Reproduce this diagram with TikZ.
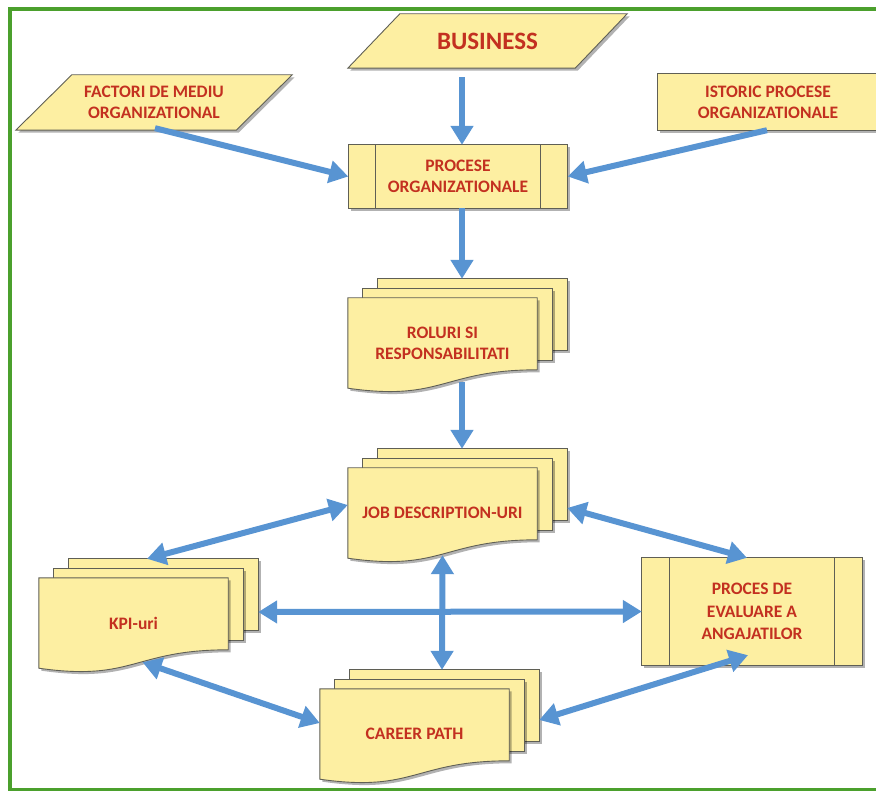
\documentclass[tikz,border=0pt]{standalone}
\usepackage{fontspec}
\setmainfont{Carlito}
\usetikzlibrary{arrows.meta,calc,shadows}

\definecolor{boxfill}{RGB}{253,239,162}
\definecolor{boxline}{RGB}{95,95,85}
\definecolor{txtred}{RGB}{195,48,32}
\definecolor{arrowblue}{RGB}{88,148,210}
\definecolor{framegreen}{RGB}{75,160,45}

\pgfdeclarelayer{background}
\pgfsetlayers{background,main}

\tikzset{
  txt/.style={align=center, text=txtred, inner sep=0pt,
    font=\bfseries\fontsize{17.5}{21}\selectfont},
  yellowbox/.style={fill=boxfill, draw=boxline, line width=0.9pt,
    drop shadow={shadow xshift=2.5pt, shadow yshift=-2.5pt, opacity=0.3, fill=black}},
  flow/.style={arrowblue, line width=6pt, -{Triangle[length=19pt,width=22pt]}},
  both/.style={flow, {Triangle[length=19pt,width=22pt]}-{Triangle[length=19pt,width=22pt]}}
}

% stacked documents behind node #1
\newcommand\multidoc[1]{%
  \begin{pgfonlayer}{background}
  \draw[yellowbox] ($(#1.north west)+(30,-19)$) rectangle ($(#1.north east)+(30,53)$);
  \draw[yellowbox] ($(#1.north west)+(15,-9.5)$) rectangle ($(#1.north east)+(15,62.5)$);
  \draw[yellowbox] (#1.north west) -- (#1.north east) -- ($(#1.north east)+(0,72)$)
    .. controls ($(#1.north)+(0,72)$) and ($(#1.north)+(0,104)$) .. (#1.south west) -- cycle;
  \end{pgfonlayer}}

% parallelogram behind node #1, slant #2
\newcommand\slantbox[2]{%
  \begin{pgfonlayer}{background}
  \draw[yellowbox] ($(#1.north west)+(#2,0)$) -- ($(#1.north east)+(#2,0)$)
    -- ($(#1.south east)+(-#2,0)$) -- ($(#1.south west)+(-#2,0)$) -- cycle;
  \end{pgfonlayer}}

% process box with side bars behind node #1
\newcommand\procbox[2]{%
  \begin{pgfonlayer}{background}
  \draw[yellowbox] (#1.north west) rectangle (#1.south east);
  \draw[boxline, line width=0.9pt] ($(#1.north west)+(#2,0)$) -- ($(#1.south west)+(#2,0)$);
  \draw[boxline, line width=0.9pt] ($(#1.north east)+(-#2,0)$) -- ($(#1.south east)+(-#2,0)$);
  \end{pgfonlayer}}

\begin{document}
\begin{tikzpicture}[x=1pt, y=-1pt]
  \useasboundingbox (0,0) rectangle (876,791);

  % green frame
  \draw[framegreen, line width=3.5pt] (900,9) -- (10,9) -- (10,789.5) -- (900,789.5);

  % inputs
  \node[txt, font=\bfseries\fontsize{25}{28}\selectfont, minimum width=227pt, minimum height=54pt]
    (business) at (487.5,41) {BUSINESS};
  \slantbox{business}{26}
  \node[txt, minimum width=220pt, minimum height=55pt] (factori) at (154,102.5)
    {FACTORI DE MEDIU\\ORGANIZATIONAL};
  \slantbox{factori}{28}
  \node[txt, minimum width=220pt, minimum height=56pt] (istoric) at (768,102)
    {ISTORIC PROCESE\\ORGANIZATIONALE};
  \begin{pgfonlayer}{background}
    \draw[yellowbox] (istoric.north west) rectangle (istoric.south east);
  \end{pgfonlayer}

  % processes
  \node[txt, minimum width=219pt, minimum height=63pt] (procese) at (458,176.5)
    {PROCESE\\ORGANIZATIONALE};
  \procbox{procese}{27}
  \node[txt, font=\bfseries\fontsize{17.5}{22.5}\selectfont, minimum width=220pt, minimum height=107pt]
    (eval) at (752,611.5) {PROCES DE\\EVALUARE A\\ANGAJATILOR};
  \procbox{eval}{28}

  % documents
  \node[txt, minimum width=189pt, minimum height=90pt] (roluri) at (442.5,343)
    {ROLURI SI\\RESPONSABILITATI};
  \multidoc{roluri}
  \node[txt, minimum width=189pt, minimum height=90pt] (job) at (442.5,513)
    {JOB DESCRIPTION-URI};
  \multidoc{job}
  \node[txt, minimum width=189pt, minimum height=90pt] (kpi) at (133.5,623) {KPI-uri};
  \multidoc{kpi}
  \node[txt, minimum width=189pt, minimum height=90pt] (career) at (414.5,734) {CAREER PATH};
  \multidoc{career}

  % arrows
  \draw[flow] ($(business.south)+(-25.5,9)$) -- ($(procese.north)+(4,0)$);
  \draw[flow] ($(factori.south)+(1,-2)$) -- (procese.west);
  \draw[flow] ($(istoric.south)+(-1,0)$) -- (procese.east);
  \draw[flow] ($(procese.south)+(4,0)$) -- ($(roluri.north)+(19.5,-19)$);
  \draw[flow] ($(roluri.south)+(19.5,-6)$) -- ($(job.north)+(19.5,-19)$);

  \draw[both] ($(job.west)+(0,-8)$) -- ($(kpi.north)+(13.5,-19)$);
  \draw[both] ($(job.east)+(30,-5)$) -- ($(eval.north)+(-5,0)$);
  \draw[both] ($(kpi.east)+(30,-11)$) -- (eval.west);
  \draw[both] ($(job.south)+(0,-3)$) -- ($(career.north)+(27.5,-19)$);
  \draw[both] ($(kpi.south)+(9,-6)$) -- ($(career.west)+(0,-11)$);
  \draw[both] ($(eval.south)+(-4,-10)$) -- ($(career.east)+(30,-14)$);
\end{tikzpicture}
\end{document}
